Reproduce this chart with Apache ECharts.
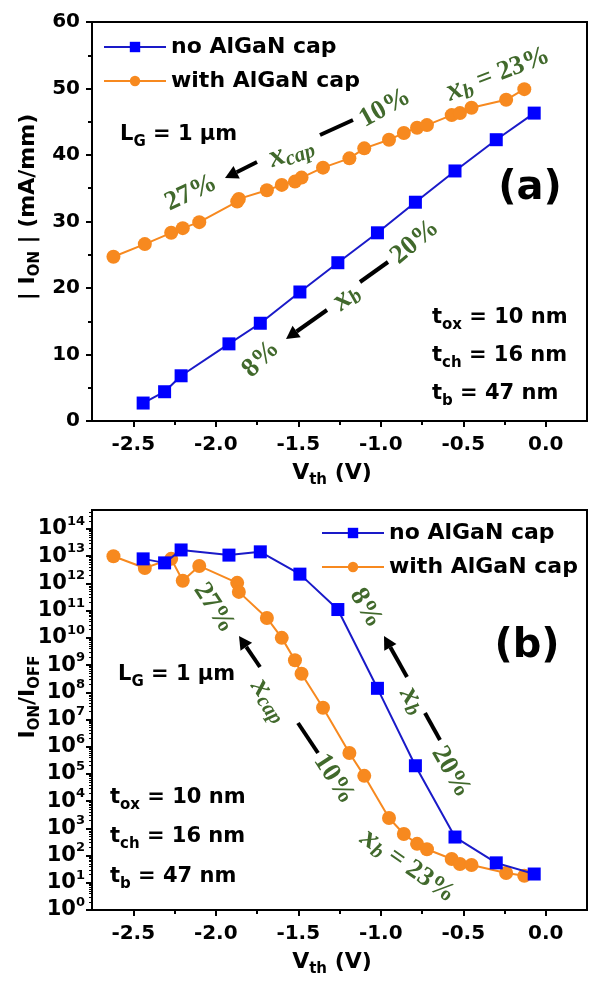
<!DOCTYPE html>
<html>
<head>
<meta charset="utf-8">
<script src="https://cdn.jsdelivr.net/npm/echarts@6/dist/echarts.min.js"></script>
<style>
  html, body { margin: 0; padding: 0; background: #fff; }
  #chart { width: 596px; height: 985px; }
</style>
</head>
<body>
<div id="chart"></div>
<script>
// series names
const nameBlue = 'no AlGaN cap';
const nameOrange = 'with AlGaN cap';

// no AlGaN cap : threshold voltage (V), |I_ON| (mA/mm), I_ON/I_OFF
const vthBlue = [-2.44, -2.31, -2.21, -1.92, -1.73, -1.49, -1.26, -1.02, -0.79, -0.55, -0.30, -0.07];
const ionBlue = [2.7, 4.4, 6.8, 11.6, 14.7, 19.4, 23.8, 28.3, 32.9, 37.6, 42.3, 46.3];
const ratioBlue = [8e12, 5.7e12, 1.7e13, 1.1e13, 1.45e13, 2.2e12, 1.1e11, 1.4e8, 2e5, 480, 54, 21];

// with AlGaN cap
const vthOrange = [-2.62, -2.43, -2.27, -2.20, -2.10, -1.87, -1.86, -1.69, -1.60, -1.52, -1.48, -1.35,
  -1.19, -1.10, -0.95, -0.86, -0.78, -0.72, -0.57, -0.52, -0.45, -0.24, -0.13];
const ionOrange = [24.7, 26.6, 28.3, 29.0, 29.9, 33.0, 33.4, 34.7, 35.5, 36.0, 36.6, 38.1,
  39.5, 41.0, 42.3, 43.3, 44.1, 44.5, 46.0, 46.3, 47.1, 48.3, 49.9];
const ratioOrange = [1.0e13, 3.7e12, 8e12, 1.25e12, 4.4e12, 1.05e12, 4.9e11, 5.4e10, 1e10, 1.5e9, 4.8e8, 2.7e7,
  5.9e5, 8.5e4, 2400, 620, 270, 170, 75, 49, 45, 23, 18];

// ticks
const xTicks = [-2.5, -2.0, -1.5, -1.0, -0.5, 0.0];
const xMinorTicks = [-2.25, -1.75, -1.25, -0.75, -0.25];
const logTicks = [1, 1e1, 1e2, 1e3, 1e4, 1e5, 1e6, 1e7, 1e8, 1e9, 1e10, 1e11, 1e12, 1e13, 1e14];
const logMinorTicks = [];
logTicks.forEach(t => { for (let k = 2; k <= 9; k++) { if (t * k < 5e14) logMinorTicks.push(t * k); } });

const sans = '"DejaVu Sans", "Liberation Sans", sans-serif';
const serif = '"Liberation Serif", "DejaVu Serif", serif';
const green = '#41692c';
const blue = '#0000ff';
const blueLine = '#1a1ac8';
const orange = '#f7891f';

const zip = (a, b) => a.map((v, i) => [v, b[i]]);

const chart = echarts.init(document.getElementById('chart'));

const axisLineStyle = { onZero: false, lineStyle: { color: '#000', width: 2 } };

function mainX(gridIndex) {
  return {
    gridIndex, type: 'value', min: -2.75, max: 0.25, position: 'bottom',
    axisLine: axisLineStyle,
    axisTick: { customValues: xTicks, length: 6, lineStyle: { color: '#000', width: 2 } },
    axisLabel: {
      customValues: xTicks, formatter: v => v.toFixed(1), margin: 14,
      fontFamily: sans, fontWeight: 'bold', fontSize: 20, color: '#000'
    },
    splitLine: { show: false }
  };
}
function minorX(gridIndex) {
  return {
    gridIndex, type: 'value', min: -2.75, max: 0.25, position: 'bottom',
    axisLine: { show: false, onZero: false },
    axisTick: { customValues: xMinorTicks, length: 4, lineStyle: { color: '#000', width: 2 } },
    axisLabel: { show: false },
    splitLine: { show: false }
  };
}

// rich text styles for graphic texts
const richBlack = {
  n: { fill: '#000', fontFamily: sans, fontWeight: 'bold', fontSize: 21, lineHeight: 30 },
  s: { fill: '#000', fontFamily: sans, fontWeight: 'bold', fontSize: 15, lineHeight: 15, verticalAlign: 'bottom' },
  t: { fill: '#000', fontFamily: sans, fontWeight: 'bold', fontSize: 22, lineHeight: 30 },
  big: { fill: '#000', fontFamily: sans, fontWeight: 'bold', fontSize: 40, lineHeight: 46 }
};
const richGreen = {
  p: { fill: green, fontFamily: serif, fontWeight: 'bold', fontSize: 27, lineHeight: 34 },
  i: { fill: green, fontFamily: serif, fontWeight: 'bold', fontStyle: 'italic', fontSize: 31, lineHeight: 34 },
  sub: { fill: green, fontFamily: serif, fontWeight: 'bold', fontStyle: 'italic', fontSize: 21, lineHeight: 21, verticalAlign: 'bottom' }
};

function txt(x, y, text, align, deg, rich) {
  return {
    type: 'text', x, y, z: 100, rotation: (deg || 0) * Math.PI / 180,
    style: {
      text, rich: rich || richBlack, align: align || 'left', verticalAlign: 'middle',
      textAlign: align || 'left', textVerticalAlign: 'middle'
    }
  };
}
const note = (x, y, deg, text) => txt(x, y, text, 'center', deg, richGreen);

function bar(x1, y1, x2, y2) {
  return { type: 'line', z: 100, shape: { x1, y1, x2, y2 }, style: { stroke: '#000', lineWidth: 4 } };
}
function arrow(x1, y1, x2, y2) {
  const a = Math.atan2(y2 - y1, x2 - x1);
  const hl = 13, hw = 7;
  const bx = x2 - hl * Math.cos(a), by = y2 - hl * Math.sin(a);
  const px = -Math.sin(a) * hw, py = Math.cos(a) * hw;
  return [
    bar(x1, y1, bx, by),
    { type: 'polygon', z: 100, shape: { points: [[x2, y2], [bx + px, by + py], [bx - px, by - py]] }, style: { fill: '#000' } }
  ];
}

const graphics = [
  // axis titles
  txt(28, 207, '{t|| I}{s|ON}{t| | (mA/mm)}', 'center', 90),
  txt(332, 473, '{t|V}{s|th}{t| (V)}', 'center'),
  txt(28, 697, '{t|I}{s|ON}{t|/I}{s|OFF}', 'center', 90),
  txt(332, 962, '{t|V}{s|th}{t| (V)}', 'center'),

  // panel (a)
  txt(120, 135, '{n|L}{s|G}{n| = 1 μm}'),
  txt(530, 189, '{big|(a)}', 'center'),
  txt(432, 318, '{n|t}{s|ox}{n| = 10 nm}'),
  txt(432, 356, '{n|t}{s|ch}{n| = 16 nm}'),
  txt(432, 394, '{n|t}{s|b}{n| = 47 nm}'),
  note(498, 74, 21, '{i|x}{sub|b}{p| = 23%}'),
  note(385, 108, 29, '{p|10%}'),
  bar(320, 135, 353, 120),
  note(291, 152, 20, '{i|x}{sub|cap}'),
  ...arrow(257, 162, 225, 178),
  note(191, 193, 25, '{p|27%}'),
  note(415, 242, 40, '{p|20%}'),
  bar(360, 282, 388, 262),
  note(346, 297, 40, '{i|x}{sub|b}'),
  ...arrow(327, 310, 286, 339),
  note(261, 359, 45, '{p|8%}'),

  // panel (b)
  txt(118, 675, '{n|L}{s|G}{n| = 1 μm}'),
  txt(527, 647, '{big|(b)}', 'center'),
  txt(110, 798, '{n|t}{s|ox}{n| = 10 nm}'),
  txt(110, 837, '{n|t}{s|ch}{n| = 16 nm}'),
  txt(110, 877, '{n|t}{s|b}{n| = 47 nm}'),
  note(214, 608, -57, '{p|27%}'),
  ...arrow(260, 667, 239, 636),
  note(270, 700, -55, '{i|x}{sub|cap}'),
  bar(298, 723, 318, 753),
  note(334, 779, -57, '{p|10%}'),
  note(366, 608, -60, '{p|8%}'),
  ...arrow(407, 677, 384, 636),
  note(413, 700, -60, '{i|x}{sub|b}'),
  bar(425, 713, 440, 740),
  note(451, 772, -60, '{p|20%}'),
  note(408, 866, -35, '{i|x}{sub|b}{p| = 23%}')
];

const legendBase = {
  orient: 'vertical', itemWidth: 62, itemHeight: 13, itemGap: 12,
  textStyle: { fontFamily: sans, fontWeight: 'bold', fontSize: 22, color: '#000' },
  data: [nameBlue, nameOrange]
};

const option = {
  animation: false,
  backgroundColor: '#fff',
  grid: [
    { left: 92, top: 22, width: 495, height: 399, show: true, borderColor: '#000', borderWidth: 2 },
    { left: 92, top: 510, width: 495, height: 400, show: true, borderColor: '#000', borderWidth: 2 }
  ],
  legend: [
    Object.assign({ left: 98, top: 31 }, legendBase),
    Object.assign({ left: 316, top: 517 }, legendBase)
  ],
  xAxis: [mainX(0), minorX(0), mainX(1), minorX(1)],
  yAxis: [
    {
      gridIndex: 0, type: 'value', min: 0, max: 60, interval: 10,
      axisLine: axisLineStyle,
      axisTick: { length: 6, lineStyle: { color: '#000', width: 2 } },
      minorTick: { show: true, splitNumber: 2, length: 4, lineStyle: { color: '#000', width: 2 } },
      axisLabel: { margin: 12, fontFamily: sans, fontWeight: 'bold', fontSize: 20, color: '#000' },
      splitLine: { show: false }
    },
    {
      gridIndex: 1, type: 'log', logBase: 10, min: 1, max: 5e14, position: 'left',
      axisLine: axisLineStyle,
      axisTick: { customValues: logTicks, length: 6, lineStyle: { color: '#000', width: 2 } },
      axisLabel: {
        customValues: logTicks, margin: 7,
        formatter: v => '{b|10}{s|' + Math.round(Math.log10(v)) + '}',
        rich: {
          b: { fontFamily: sans, fontWeight: 'bold', fontSize: 21, color: '#000', lineHeight: 28 },
          s: { fontFamily: sans, fontWeight: 'bold', fontSize: 13, color: '#000', lineHeight: 13, verticalAlign: 'top' }
        }
      },
      splitLine: { show: false }
    },
    {
      gridIndex: 1, type: 'log', logBase: 10, min: 1, max: 5e14, position: 'left',
      axisLine: { show: false, onZero: false },
      axisTick: { customValues: logMinorTicks, length: 3, lineStyle: { color: '#000', width: 1 } },
      axisLabel: { show: false },
      splitLine: { show: false }
    }
  ],
  series: [
    {
      name: nameBlue, type: 'line', xAxisIndex: 0, yAxisIndex: 0, data: zip(vthBlue, ionBlue),
      symbol: 'rect', symbolSize: 13, itemStyle: { color: blue }, lineStyle: { color: blueLine, width: 2 }, z: 3
    },
    {
      name: nameOrange, type: 'line', xAxisIndex: 0, yAxisIndex: 0, data: zip(vthOrange, ionOrange),
      symbol: 'circle', symbolSize: 14, itemStyle: { color: orange }, lineStyle: { color: orange, width: 2 }, z: 2
    },
    {
      name: nameBlue, type: 'line', xAxisIndex: 2, yAxisIndex: 1, data: zip(vthBlue, ratioBlue),
      symbol: 'rect', symbolSize: 13, itemStyle: { color: blue }, lineStyle: { color: blueLine, width: 2 }, z: 3
    },
    {
      name: nameOrange, type: 'line', xAxisIndex: 2, yAxisIndex: 1, data: zip(vthOrange, ratioOrange),
      symbol: 'circle', symbolSize: 14, itemStyle: { color: orange }, lineStyle: { color: orange, width: 2 }, z: 2
    }
  ],
  graphic: graphics
};

chart.setOption(option);
</script>
</body>
</html>
